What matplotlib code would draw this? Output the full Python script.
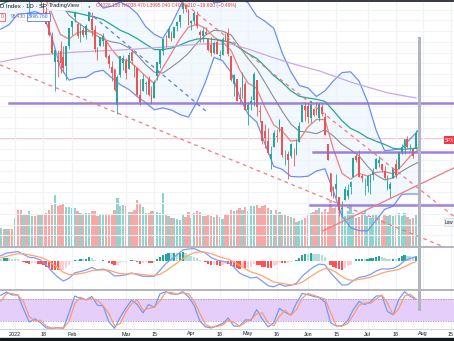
import numpy as np
import matplotlib
matplotlib.use('Agg')
import matplotlib.pyplot as plt
from matplotlib.lines import Line2D

plt.rcParams['font.family'] = ['Liberation Sans', 'DejaVu Sans']

# daily bars, Dec 27 2021 .. Jul 28 2022
open_ = [4733, 4795, 4788, 4795, 4776,
         4778, 4804, 4788, 4693, 4698, 4655, 4669, 4729, 4733, 4637, 4632, 4588, 4548, 4471, 4357, 4367, 4408, 4381, 4337, 4431,
         4519, 4566, 4535, 4482, 4505, 4480, 4547, 4554, 4507, 4412, 4430, 4455, 4456, 4385, 4332, 4324, 4155, 4298, 4354,
         4363, 4322, 4401, 4342, 4327, 4203, 4223, 4252, 4279, 4202, 4188, 4289, 4346, 4407, 4463, 4470, 4493, 4470, 4523, 4542, 4603, 4623, 4599,
         4540, 4548, 4573, 4495, 4475, 4494, 4462, 4437, 4398, 4449, 4385, 4390, 4472, 4490, 4385, 4256, 4279, 4187, 4222, 4253,
         4131, 4159, 4181, 4271, 4129, 4081, 4035, 3990, 3903, 3963, 4013, 4052, 4052, 3900, 3927, 3920, 3943, 3929, 3985, 4077, 4152,
         4150, 4096, 4137, 4135, 4096, 4148, 4101, 3974, 3838, 3764, 3765, 3728, 3675, 3716, 3733, 3774, 3821, 3920, 3913, 3825, 3785,
         3781, 3792, 3831, 3858, 3888, 3880, 3851, 3772, 3764, 3818, 3883, 3861, 3935, 3955, 3999, 3965, 3954, 3951, 4026]
high = [4791, 4808, 4804, 4808, 4787,
        4797, 4819, 4798, 4725, 4708, 4673, 4714, 4749, 4745, 4666, 4632, 4612, 4602, 4495, 4418, 4411, 4453, 4429, 4433, 4516,
        4546, 4595, 4542, 4540, 4521, 4531, 4590, 4589, 4527, 4427, 4473, 4490, 4456, 4394, 4363, 4325, 4294, 4385, 4389,
        4375, 4401, 4416, 4343, 4327, 4276, 4299, 4268, 4292, 4247, 4271, 4358, 4412, 4465, 4481, 4522, 4501, 4520, 4546, 4575, 4637, 4627, 4603,
        4550, 4594, 4593, 4503, 4521, 4521, 4464, 4471, 4453, 4461, 4411, 4471, 4489, 4513, 4386, 4300, 4279, 4240, 4308, 4270,
        4169, 4200, 4308, 4271, 4158, 4082, 4068, 4050, 3964, 4039, 4047, 4090, 4052, 3946, 3943, 3981, 3956, 3999, 4075, 4158, 4169,
        4167, 4177, 4143, 4169, 4165, 4160, 4120, 3974, 3838, 3778, 3837, 3728, 3708, 3779, 3790, 3802, 3913, 3928, 3945, 3837, 3819,
        3829, 3832, 3864, 3910, 3918, 3880, 3874, 3829, 3796, 3864, 3903, 3938, 3975, 3999, 4012, 3975, 3954, 4039, 4038]
low = [4733, 4780, 4778, 4775, 4765,
       4758, 4774, 4699, 4671, 4663, 4582, 4638, 4718, 4650, 4614, 4569, 4532, 4475, 4395, 4222, 4287, 4305, 4309, 4273, 4415,
       4484, 4544, 4470, 4451, 4471, 4465, 4547, 4477, 4402, 4365, 4429, 4429, 4373, 4328, 4268, 4222, 4114, 4286, 4318,
       4279, 4322, 4346, 4285, 4199, 4157, 4223, 4209, 4200, 4161, 4187, 4271, 4330, 4390, 4425, 4469, 4455, 4468, 4501, 4517, 4582, 4588, 4530,
       4507, 4535, 4514, 4450, 4450, 4485, 4409, 4382, 4392, 4392, 4372, 4390, 4452, 4385, 4268, 4200, 4175, 4163, 4189, 4132,
       4063, 4132, 4153, 4107, 4077, 3976, 3958, 3929, 3859, 3963, 3984, 4033, 3913, 3877, 3810, 3909, 3875, 3925, 3984, 4077, 4084,
       4074, 4074, 4107, 4110, 4080, 4107, 4017, 3900, 3735, 3725, 3723, 3640, 3639, 3716, 3717, 3743, 3821, 3889, 3820, 3800, 3738,
       3753, 3743, 3809, 3858, 3869, 3847, 3814, 3759, 3722, 3818, 3819, 3861, 3929, 3927, 3956, 3944, 3911, 3951, 3995]
close = [4791, 4786, 4793, 4778, 4766,
         4797, 4794, 4701, 4696, 4677, 4670, 4713, 4726, 4659, 4663, 4577, 4533, 4483, 4398, 4410, 4357, 4350, 4327, 4432, 4516,
         4546, 4589, 4477, 4501, 4484, 4522, 4587, 4504, 4419, 4401, 4472, 4475, 4380, 4349, 4305, 4226, 4288, 4385, 4374,
         4306, 4387, 4363, 4329, 4201, 4171, 4278, 4260, 4204, 4173, 4262, 4358, 4412, 4463, 4461, 4512, 4456, 4520, 4543, 4575, 4632, 4602, 4530,
         4546, 4583, 4525, 4481, 4500, 4488, 4413, 4397, 4447, 4392, 4391, 4463, 4459, 4394, 4272, 4297, 4176, 4184, 4288, 4132,
         4155, 4175, 4300, 4147, 4123, 3991, 4001, 3935, 3930, 4024, 4008, 4088, 3924, 3901, 3901, 3974, 3941, 3979, 4058, 4158, 4132,
         4101, 4177, 4109, 4121, 4161, 4116, 4018, 3901, 3750, 3735, 3790, 3667, 3675, 3765, 3760, 3796, 3912, 3901, 3821, 3819, 3785,
         3825, 3831, 3845, 3903, 3899, 3855, 3819, 3802, 3790, 3863, 3831, 3937, 3960, 3999, 3962, 3967, 3921, 4024, 4004]
volume = [1.9, 1.8, 1.8, 1.8, 1.8,
          2.9, 3.7, 3.7, 3.2, 3.2, 3.6, 3.1, 3.1, 3.3, 3.3, 3.3, 3.4, 3.7, 4.2, 5.2, 4.1, 4.2, 4.3, 4.0, 4.0,
          3.9, 3.9, 3.6, 3.4, 3.3, 3.4, 3.4, 3.6, 3.6, 3.1, 3.2, 3.3, 3.2, 3.3, 3.3, 3.7, 4.9, 4.1, 4.2,
          4.1, 3.5, 3.5, 3.7, 4.7, 4.4, 4.0, 3.4, 3.4, 3.6, 3.6, 3.5, 3.4, 5.5, 3.3, 3.1, 2.9, 2.9, 2.8, 2.7, 3.3, 3.0, 3.5,
          2.9, 3.4, 3.6, 3.5, 3.1, 3.1, 3.2, 3.1, 3.0, 3.3, 3.0, 2.8, 3.3, 3.3, 3.7, 3.6, 3.7, 3.9, 3.7, 4.0,
          3.6, 4.1, 4.1, 4.2, 3.9, 4.1, 4.2, 3.9, 3.7, 3.3, 3.7, 3.5, 3.3, 3.3, 3.1, 3.0, 2.9, 2.5, 2.6, 2.7, 2.9,
          3.2, 3.4, 3.5, 3.7, 3.9, 3.5, 3.8, 3.5, 4.7, 3.9, 4.0, 4.0, 4.4, 3.1, 3.6, 4.2, 3.4, 2.9, 3.0, 3.2, 3.7,
          3.1, 2.9, 3.2, 3.2, 3.1, 2.7, 3.2, 3.1, 3.3, 3.1, 3.2, 3.4, 3.1, 3.4, 3.0, 2.8, 2.9, 3.2, 2.2]

# overlays, every 3rd bar from Dec 27
bb_upper = [4785, 4826, 4841, 4841, 4841, 4847, 4904, 4924, 4876, 4797, 4741, 4657, 4607, 4616, 4635, 4615, 4581, 4520, 4485, 4466,
            4531, 4612, 4695, 4719, 4698, 4631, 4637, 4655, 4660, 4631, 4570, 4545, 4513, 4397, 4312, 4247, 4236, 4196, 4222, 4269,
            4307, 4311, 4268, 4172, 4040, 3944, 3948, 3954, 3999, 4040]
bb_lower = [4509, 4531, 4580, 4582, 4591, 4576, 4469, 4330, 4272, 4283, 4285, 4310, 4318, 4283, 4251, 4229, 4195, 4167, 4134, 4143,
            4133, 4112, 4100, 4170, 4264, 4378, 4362, 4308, 4194, 4113, 4077, 3973, 3871, 3857, 3824, 3822, 3825, 3849, 3860, 3755,
            3640, 3586, 3572, 3571, 3621, 3671, 3686, 3741, 3743, 3742]
bb_basis = [4647, 4678, 4711, 4712, 4716, 4711, 4686, 4627, 4574, 4540, 4513, 4484, 4462, 4450, 4443, 4422, 4388, 4344, 4309, 4305,
            4332, 4362, 4397, 4445, 4481, 4504, 4500, 4482, 4427, 4372, 4324, 4259, 4192, 4127, 4068, 4034, 4031, 4023, 4041, 4012,
            3973, 3948, 3920, 3871, 3831, 3808, 3817, 3848, 3871, 3891]
fast_ma = [4688, 4732, 4757, 4727, 4718, 4677, 4580, 4484, 4463, 4494, 4499, 4496, 4477, 4415, 4368, 4363, 4328, 4289, 4257, 4330,
           4396, 4465, 4518, 4532, 4513, 4472, 4448, 4410, 4320, 4258, 4234, 4142, 4064, 4035, 3988, 3994, 4054, 4089, 4089, 3951,
           3839, 3811, 3838, 3826, 3843, 3847, 3836, 3873, 3919, 3950]
slow_ma = [4623, 4642, 4658, 4662, 4666, 4662, 4641, 4610, 4590, 4584, 4574, 4566, 4553, 4529, 4504, 4487, 4465, 4439, 4414, 4414,
           4421, 4435, 4452, 4463, 4466, 4461, 4456, 4447, 4421, 4395, 4373, 4335, 4293, 4261, 4223, 4197, 4189, 4183, 4173, 4130,
           4083, 4048, 4029, 4004, 3988, 3973, 3955, 3950, 3953, 3957]
lav_x = [-5, 8, 22, 37, 53, 65, 76, 83, 90, 98, 107, 119, 131, 141]
lav_p = [4357, 4389, 4403, 4412, 4426, 4440, 4440, 4412, 4380, 4347, 4315, 4259, 4213, 4189]

# MACD histogram, one value per bar
macd_hist = [10, 13, 15, 14, 11, 11, 10, 2, -3, -8, -11, -10, -8, -11, -13, -18, -24, -29, -37, -38,
             -41, -40, -39, -29, -15, -3, 7, 7, 9, 9, 11, 17, 14, 7, 2, 3, 4, -1, -6, -11,
             -18, -18, -10, -4, -4, 1, 4, 4, -4, -11, -7, -4, -6, -8, -2, 8, 18, 27, 32, 37,
             35, 36, 36, 37, 39, 36, 28, 22, 19, 12, 4, 0, -4, -12, -17, -17, -19, -20, -15, -12,
             -13, -21, -24, -32, -34, -27, -31, -30, -27, -14, -15, -16, -24, -26, -29, -30, -22, -16, -5, -8,
             -9, -9, -3, 0, 5, 14, 26, 32, 32, 37, 34, 31, 31, 27, 17, 3, -16, -27, -29, -36,
             -37, -30, -23, -15, -1, 8, 9, 10, 8, 10, 12, 14, 19, 21, 19, 15, 11, 8, 10, 10,
             16, 21, 26, 25, 24, 19, 22, 21]
# MACD lines and Stoch RSI, every 2nd bar from Dec 27
macd_line = [24, 36, 39, 43, 30, 17, 15, 5, -17, -46, -70, -88, -76, -52, -46, -39, -28, -39, -35, -46, -66, -64, -61, -52, -60,
             -67, -68, -67, -40, -12, 9, 28, 50, 54, 56, 45, 36, 16, 5, 0, -5, -26, -53, -65, -75, -71, -89, -109, -114, -102,
             -111, -107, -98, -67, -45, -26, -13, -16, -52, -79, -106, -105, -86, -72, -68, -59, -44, -34, -35, -32, -20, 2, 12, 20]
macd_signal = [15, 21, 28, 33, 33, 28, 23, 17, 7, -10, -29, -49, -60, -59, -55, -50, -42, -40, -39, -40, -48, -55, -57, -55, -56,
               -60, -62, -65, -58, -44, -26, -8, 11, 27, 37, 41, 40, 33, 24, 15, 9, -3, -19, -34, -48, -55, -65, -79, -92, -97,
               -101, -105, -103, -93, -77, -60, -44, -33, -36, -50, -68, -82, -86, -81, -77, -71, -63, -53, -46, -42, -36, -24, -12, -2]
stoch_k = [90, 99, 91, 91, 53, 17, 26, 15, 1, 0, 2, 0, 42, 88, 82, 78, 87, 63, 61, 18, 0, 30, 55, 77, 65, 42, 65, 57, 94, 100,
           94, 93, 100, 86, 63, 20, 4, 1, 7, 13, 28, 6, 6, 23, 22, 51, 25, 4, 15, 54, 44, 36, 69, 95, 92, 87, 84, 72, 15, 6,
           7, 21, 51, 73, 65, 72, 88, 89, 46, 37, 79, 100, 87, 79]
stoch_d = [74, 95, 95, 90, 73, 32, 20, 22, 6, 0, 1, 1, 19, 67, 85, 77, 83, 76, 62, 41, 6, 13, 45, 67, 77, 50, 54, 58, 75, 98,
           98, 93, 97, 94, 74, 41, 10, 3, 5, 9, 22, 16, 6, 16, 25, 39, 42, 15, 7, 33, 49, 35, 51, 82, 95, 90, 85, 80, 43, 7,
           6, 13, 36, 63, 69, 68, 80, 91, 69, 36, 54, 88, 93, 80]

# time axis: bar number counted from Jan 3 2022
tick_pos = [0, 10, 20, 39, 49, 62, 72, 82, 92, 103, 113, 124, 134, 143.6, 153.3]
tick_txt = ['2022', '18', 'Feb', 'Mar', '15', 'Apr', '18', 'May', '16', 'Jun', '15', 'Jul', '18', 'Aug', '15']

# drawings: (price, first bar) and line end points (bar, price)
hlines = [(4166, -2.1), (3938, 104.8), (3692, 103.8)]
red_dash = [[(-5.3, 4343), (156.5, 3466)], [(58.0, 4645), (154.4, 3638)]]
blue_dash = [(25.7, 4589), (67.5, 4124)]
red_ray = [(108.3, 3571), (154.4, 3864)]

n = len(close)
x = np.arange(n) - 5
x3 = np.arange(-5, 143, 3)
x2 = np.arange(-5, 142, 2)
o, h, l, c = map(np.array, (open_, high, low, close))
hist = np.array(macd_hist, dtype=float)

W, H = 454, 341
fig = plt.figure(figsize=(W / 100, H / 100), dpi=100)
fy = lambda px: 1 - px / H
XL = (-5.28, 154.4)
axv = fig.add_axes([0, fy(247), 1, 246 / H])
ax = fig.add_axes([0, fy(247), 1, 246 / H], sharex=axv)
axm = fig.add_axes([0, fy(290), 1, 43 / H], sharex=axv)
axs = fig.add_axes([0, fy(329), 1, 39 / H], sharex=axv)
ax.patch.set_visible(False)
for a in (axv, ax, axm, axs):
    a.set_xlim(*XL)
    for sp in a.spines.values():
        sp.set_visible(False)
    a.tick_params(left=False, bottom=False, labelleft=False, labelbottom=False)
    a.set_xticks(tick_pos)
    a.grid(True, axis='x', color='#f0f3fa', lw=0.8)
for a in (axv, axm, axs):
    a.set_axisbelow(True)

up_c, dn_c = '#26a69a', '#ef5350'
cols = np.where(c >= o, up_c, dn_c)

# volume overlay
axv.bar(x, volume, width=0.8, color=cols, alpha=0.5, lw=0)
axv.set_ylim(0, 24.6)

# price pane
ax.set_ylim(3496, 4640)
ax.set_yticks(np.arange(3500, 4650, 50))
ax.grid(True, axis='y', color='#f0f3fa', lw=0.8, zorder=0)
ax.fill_between(x3, bb_lower, bb_upper, color='#2196f3', alpha=0.06, lw=0, zorder=1)
ax.plot(x3, bb_upper, color='#6f8ff5', lw=0.9, zorder=2)
ax.plot(x3, bb_lower, color='#6f8ff5', lw=0.9, zorder=2)
ax.plot(x3, bb_basis, color='#8a8d96', lw=0.8, zorder=2)
ax.plot(x3, fast_ma, color='#f0807f', lw=0.9, zorder=2)
ax.plot(x3, slow_ma, color='#2aa58e', lw=0.9, zorder=2)
ax.plot(lav_x, lav_p, color='#c9a8e6', lw=0.9, zorder=2)
ax.axhline(c[-1], color='#f8c9cc', lw=0.8, zorder=1)

ax.vlines(x, l, h, colors=cols, lw=0.6, zorder=3)
ax.bar(x, np.maximum(np.abs(c - o), 1.5), bottom=np.minimum(o, c), width=0.62, color=cols, lw=0, zorder=3)

for p, x0 in hlines:
    ax.plot([x0, XL[1] + 1], [p, p], color='#8c6fd0', lw=1.8, alpha=0.85, zorder=4)
for seg in red_dash:
    ax.plot(*zip(*seg), color='#f27a7d', lw=0.9, ls=(0, (3, 3)), zorder=4)
ax.plot(*zip(*blue_dash), color='#5a7fe0', lw=0.9, ls=(0, (3, 3)), zorder=4)
ax.plot(*zip(*red_ray), color='#f27a7d', lw=0.9, zorder=4)

# MACD pane
hc = []
for i in range(n):
    prev = hist[i - 1] if i else hist[i]
    if hist[i] >= 0:
        hc.append('#26a69a' if hist[i] > prev else '#b2dfdb')
    else:
        hc.append('#ff5252' if hist[i] < prev else '#ffcdd2')
axm.bar(x, hist, width=0.8, color=hc, lw=0)
axm.plot(x2, macd_line, color='#7d9bff', lw=0.9)
axm.plot(x2, macd_signal, color='#ffa66a', lw=0.9)
axm.set_ylim(-128, 63)

# Stoch RSI pane
axs.axhspan(20, 80, color='#e5cffa', lw=0)
for lv in (20, 80):
    axs.axhline(lv, color='#a393ba', lw=0.6, ls=(0, (1.5, 1.5)))
axs.plot(x2, stoch_k, color='#6f9bff', lw=0.9)
axs.plot(x2, stoch_d, color='#ff9a6b', lw=0.9)
axs.set_ylim(-1.9, 104.6)

def fline(x0, y0, x1, y1, **kw):
    fig.add_artist(Line2D([x0 / W, x1 / W], [fy(y0), fy(y1)], **kw))

fline(0, 247, W, 247, color='#b2b5be', lw=1.4)
fline(0, 290, W, 290, color='#b2b5be', lw=1.4)
fline(0, 329, W, 329, color='#d1d4dc', lw=0.8)
fline(0, 0.5, W, 0.5, color='#131722', lw=1.2)
fig.add_artist(plt.Rectangle((0, 0), 1, 3.5 / H, color='#131722', transform=fig.transFigure))
xpix = lambda i: (15 + 2.843 * i)
fline(xpix(142), 38, xpix(142), 309, color='#b2b5be', lw=2.2)

for p, t in zip(tick_pos, tick_txt):
    fig.text(xpix(p) / W, fy(334), t, fontsize=3.9, color='#131722', ha='center', va='center')

# header
fig.text(0, fy(6), 'D Index · 1D · SP', fontsize=4.3, color='#131722', va='center')
fig.text(49 / W, fy(6), 'TradingView', fontsize=4.1, color='#131722', va='center',
         bbox=dict(boxstyle='square,pad=0.2', fc='white', ec='#e0e3eb', lw=0.5))
fig.text(88.5 / W, fy(6.5), '●', fontsize=3.2, color='#26a69a', ha='center', va='center')
fig.text(96 / W, fy(6), 'O4026.130 H4038.470 L3995.040 C4004.010 −19.600 (−0.49%)', fontsize=3.5,
         color='#f23645', va='center')
fig.text(0.5 / W, fy(17), '0', fontsize=3.6, color='#f23645', va='center', ha='left',
         bbox=dict(boxstyle='square,pad=0.3', fc='white', ec='#f23645', lw=0.5))
fig.text(11 / W, fy(17), '95.430', fontsize=3.5, color='#787b86', va='center')
fig.text(28 / W, fy(17), '3996.760', fontsize=3.5, color='#2962ff', va='center',
         bbox=dict(boxstyle='square,pad=0.3', fc='white', ec='#2962ff', lw=0.5))
# price-scale labels at the cropped right edge
fig.text(445 / W, fy(140), 'SPX', fontsize=3.3, color='white', va='center',
         bbox=dict(boxstyle='square,pad=0.3', fc='#f23645', ec='none'))
fig.text(445 / W, fy(222), 'Low', fontsize=3.3, color='#131722', va='center',
         bbox=dict(boxstyle='square,pad=0.3', fc='#eef0f4', ec='#d1d4dc', lw=0.4))

fig.savefig('out.png', dpi=100)
